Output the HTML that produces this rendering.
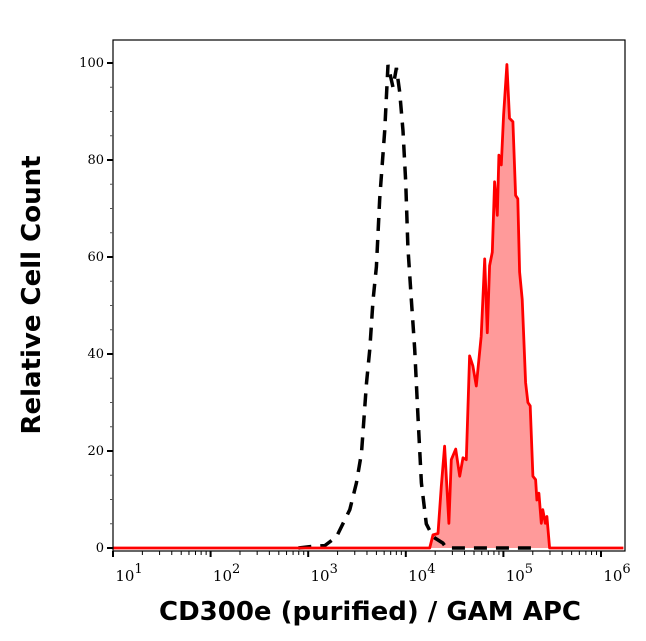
<!DOCTYPE html>
<html><head><meta charset="utf-8"><style>
html,body{margin:0;padding:0;background:#fff;}
svg{display:block;}
</style></head><body>
<svg id="chart" width="646" height="641" viewBox="0 0 646 641" xmlns="http://www.w3.org/2000/svg">
<g id="plot"></g>
<rect x="113" y="40" width="512" height="511" fill="none" stroke="#000" stroke-width="1.2"/>
<g id="axes"></g>
<text transform="translate(40,295) rotate(-90)" text-anchor="middle" font-family="'DejaVu Sans','Liberation Sans',sans-serif" font-weight="bold" font-size="26">Relative Cell Count</text>
<text x="370" y="620" text-anchor="middle" font-family="'DejaVu Sans','Liberation Sans',sans-serif" font-weight="bold" font-size="26">CD300e (purified) / GAM APC</text>
</svg>
<script>
const controlLogX = [2.9,3.034,3.17,3.29,3.426,3.494,3.546,3.597,3.631,3.664,3.699,3.733,3.784,3.818,3.869,3.904,3.938,3.971,3.999,4.022,4.057,4.091,4.125,4.16,4.21,4.278,4.38,4.416,5.3];
const controlCount = [0,0.3,0.5,2.3,7.9,13.4,19.6,34,41,51,58,72,86,99.6,95,99,94,86,75.5,62,51,41,27,13.4,5,2.3,1,0,0];
const stainedLogX = [1.0,4.245,4.279,4.33,4.364,4.398,4.442,4.466,4.511,4.552,4.586,4.62,4.654,4.688,4.722,4.773,4.808,4.835,4.859,4.886,4.91,4.937,4.954,4.978,5.002,5.036,5.063,5.097,5.125,5.148,5.166,5.193,5.227,5.251,5.275,5.302,5.33,5.343,5.364,5.388,5.404,5.429,5.446,5.473,6.23];
const stainedCount = [0,0,2.7,3.0,12.7,21,5.1,18.2,20.4,14.8,18.6,18.2,39.6,37.5,33.4,43.7,59.6,44.4,58.2,61,75.5,68.6,81,79,89.3,99.7,88.6,87.9,72.7,72,56.9,51.3,34.1,30,29.3,14.8,14.1,9.9,11.3,5.1,7.9,5.1,6.5,0,0];
const yTicks = [0,20,40,60,80,100];
const xTickExp = [1,2,3,4,5,6];

const NS='http://www.w3.org/2000/svg';
const X0=113, DEC=97.6, Y0=548, YS=4.85;
const xs = l => X0 + (l-1)*DEC;
const ys = v => Y0 - v*YS;
function mk(tag, attrs, parent){const e=document.createElementNS(NS,tag);for(const k in attrs)e.setAttribute(k,attrs[k]);parent.appendChild(e);return e;}
const plot=document.getElementById('plot'), axes=document.getElementById('axes');

let d='M'+xs(stainedLogX[0])+','+ys(0);
stainedLogX.forEach((l,i)=>{d+=' L'+xs(l).toFixed(1)+','+ys(stainedCount[i]).toFixed(1);});
d+=' L'+xs(stainedLogX[stainedLogX.length-1])+','+ys(0)+' Z';
const fill=mk('path',{d:d,fill:'#ff9a9a',stroke:'none'},plot);



let cd='';
controlLogX.forEach((l,i)=>{cd+=(i?' L':'M')+xs(l).toFixed(1)+','+ys(controlCount[i]).toFixed(1);});
const cl=mk('path',{d:cd,fill:'none',stroke:'#000','stroke-width':3.5,'stroke-dasharray':'13,9'},plot);



let ld='';
stainedLogX.forEach((l,i)=>{ld+=(i?' L':'M')+xs(l).toFixed(1)+','+ys(stainedCount[i]).toFixed(1);});
const sl=mk('path',{d:ld,fill:'none',stroke:'#ff0000','stroke-width':2.8,'stroke-linejoin':'round'},plot);



yTicks.forEach(v=>{
  const y=ys(v);
  const t=mk('line',{x1:X0-6,x2:X0,y1:y,y2:y,stroke:'#000','stroke-width':2},axes);
  
  
  const tx=mk('text',{x:X0-9,y:y+4,'text-anchor':'end','font-family':"'DejaVu Serif','Liberation Serif',serif",'font-size':13},axes);
  tx.textContent=v;
  
  
  if(v<100){for(let k=1;k<4;k++){const yy=ys(v+k*5);
    const m=mk('line',{x1:X0-3,x2:X0,y1:yy,y2:yy,stroke:'#555','stroke-width':1},axes);
    
    }}
});
xTickExp.forEach(e=>{
  const x=xs(e);
  const t=mk('line',{x1:x,x2:x,y1:551,y2:557,stroke:'#000','stroke-width':2},axes);
  
  
  const tx=mk('text',{x:x+16,y:581,'text-anchor':'middle','font-family':"'DejaVu Serif','Liberation Serif',serif",'font-size':15},axes);
  tx.textContent='10';
  const sp=mk('tspan',{dy:-8,'font-size':13},tx);sp.textContent=e;
  
  
  for(let k=2;k<10;k++){const l=e+Math.log10(k);if(l>6.23)break;const xx=xs(l);
    const m=mk('line',{x1:xx,x2:xx,y1:551,y2:555,stroke:'#000','stroke-width':1},axes);
    
    }
});
</script>
</body></html>
